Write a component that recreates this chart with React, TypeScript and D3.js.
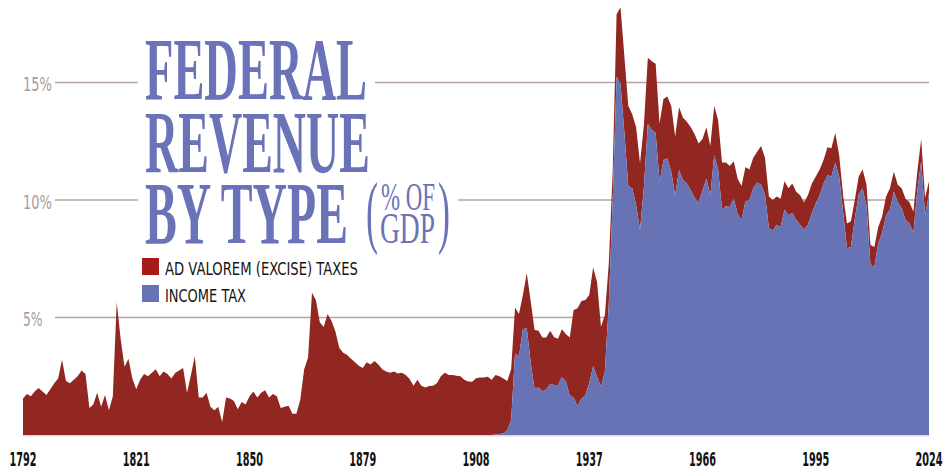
import React from 'react';
import * as d3 from 'd3';

const START_YEAR = 1792;
const END_YEAR = 2024;
const INCOME_START = 1912;

// Ad valorem (excise) taxes, % of GDP, 1792..2024
const exciseTaxes = [
  1.55, 1.75, 1.65, 1.85, 2.0, 1.85, 1.7, 1.95, 2.2, 2.4,
  3.2, 2.3, 2.2, 2.35, 2.5, 2.75, 2.6, 1.15, 1.3, 1.8,
  1.2, 1.7, 1.05, 1.65, 5.65, 4.1, 2.9, 3.25, 2.4, 1.95,
  2.35, 2.6, 2.5, 2.65, 2.8, 2.5, 2.7, 2.6, 2.4, 2.65,
  2.75, 2.85, 1.8, 2.55, 3.35, 1.6, 1.6, 1.8, 1.2, 1.05,
  1.2, 0.55, 1.6, 1.55, 1.45, 1.1, 1.4, 1.3, 1.65, 1.85,
  1.6, 1.8, 1.9, 1.6, 1.75, 1.65, 1.15, 1.2, 1.25, 0.9,
  0.9, 1.5, 2.8, 3.3, 6.05, 5.75, 4.8, 4.6, 5.15, 4.85,
  4.4, 3.7, 3.5, 3.4, 3.25, 3.1, 2.95, 2.85, 3.1, 3.0,
  3.15, 3.0, 2.8, 2.7, 2.65, 2.7, 2.62, 2.65, 2.55, 2.38,
  2.1, 2.35, 2.1, 2.02, 2.08, 2.1, 2.2, 2.5, 2.65, 2.55,
  2.55, 2.52, 2.5, 2.35, 2.28, 2.27, 2.42, 2.45, 2.45, 2.48,
  2.35, 2.53, 2.46, 2.34, 2.1, 2.16, 1.96, 1.8, 1.45, 2.34,
  2.6, 2.51, 2.42, 2.29, 2.21, 2.26, 2.03, 1.97, 2.04, 2.01,
  2.47, 3.74, 4.16, 4.15, 4.06, 3.76, 4.2, 4.02, 2.56, 2.4,
  1.7, 1.2, 2.65, 3.25, 3.25, 3.4, 3.15, 3.3, 2.84, 2.63,
  2.8, 2.92, 2.94, 2.47, 2.6, 2.63, 2.8, 2.5, 2.67, 2.65,
  2.62, 2.7, 2.7, 2.5, 2.2, 2.2, 2.1, 2.1, 2.1, 2.0,
  1.85, 1.75, 1.6, 1.5, 1.45, 1.45, 1.3, 1.3, 1.3, 1.65,
  1.55, 1.35, 1.3, 1.2, 1.2, 1.2, 1.15, 1.25, 1.2, 1.25,
  1.15, 1.25, 1.25, 1.15, 1.1, 1.0, 1.2, 1.2, 1.25, 0.9,
  0.7, 1.05, 1.1, 0.8, 0.75, 0.8, 0.9, 0.85, 0.85, 0.7,
  0.7, 0.8, 0.9, 0.85, 0.75, 0.85, 0.9, 0.9, 0.9, 0.8,
  0.95, 0.75, 0.5,
];

// Income tax, % of GDP, 1912..2024
const incomeTax = [
  0, 0.02, 0.04, 0.06, 0.2, 0.64, 3.47, 3.35, 4.5, 4.54,
  3.1, 1.96, 2.02, 1.86, 1.94, 2.18, 2.13, 2.13, 2.46, 2.29,
  1.68, 1.58, 1.23, 1.55, 1.68, 2.2, 2.94, 2.48, 2.05, 2.7,
  5.6, 10.0, 15.25, 14.95, 12.85, 10.6, 10.5, 9.8, 8.72, 10.57,
  13.25, 12.98, 12.86, 10.78, 11.7, 11.77, 11.2, 10.2, 11.28, 10.85,
  10.71, 10.4, 10.1, 9.9, 10.4, 10.9, 10.2, 11.9, 11.3, 9.6,
  9.75, 9.7, 10.05, 9.4, 9.15, 9.95, 10.0, 10.5, 10.75, 10.65,
  10.25, 8.8, 8.7, 8.95, 8.85, 9.6, 9.35, 9.45, 9.15, 8.95,
  8.75, 8.95, 9.45, 9.85, 10.2, 10.7, 11.05, 11.0, 11.6, 11.0,
  9.5, 7.95, 8.0, 9.2, 10.25, 10.5, 9.75, 7.25, 7.15, 8.15,
  8.6, 9.35, 9.6, 10.35, 9.9, 9.65, 9.15, 9.0, 8.6, 10.4,
  11.65, 9.35, 10.3,
];

const yTicks = [5, 10, 15];
const yearTicks = [1792, 1821, 1850, 1879, 1908, 1937, 1966, 1995, 2024];
const legendLabels = ['AD VALOREM (EXCISE) TAXES', 'INCOME TAX'];
const titleLines = ['FEDERAL', 'REVENUE', 'BY TYPE'];

const RED = '#922620';
const BLUE = '#6873b6';
const LEGEND_RED = '#a8191a';
const TITLE = '#6a73b8';
const GRID = '#b5a3a8';
const TICK_TEXT = '#a99ca0';

const W = 943;
const H = 468;

const condensed = "'DejaVu Sans Condensed', 'Liberation Sans Narrow', Roboto, 'Noto Sans', sans-serif";
const serif = "'Liberation Serif', 'DejaVu Serif', serif";

export default function App() {
  const years = d3.range(START_YEAR, END_YEAR + 1);
  const rows = years.map((yr, i) => ({
    year: yr,
    excise: exciseTaxes[i],
    income: yr >= INCOME_START ? incomeTax[yr - INCOME_START] : 0,
  }));

  const x = d3.scaleLinear().domain([START_YEAR, END_YEAR]).range([23, 929]);
  const y = d3.scaleLinear().domain([0, 15]).range([435, 82.5]);

  const stack = d3.stack<any>().keys(['income', 'excise']);
  const series = stack(rows);
  const area = d3
    .area<any>()
    .x((d) => x(d.data.year))
    .y0((d) => y(d[0]))
    .y1((d) => y(d[1]))
    .curve(d3.curveLinear);

  const colors: Record<string, string> = { income: BLUE, excise: RED };

  return (
    <svg
      width={W}
      height={H}
      viewBox={`0 0 ${W} ${H}`}
      style={{ position: 'absolute', left: 0, top: 0, background: '#fff' }}
    >
      {/* gridlines */}
      {yTicks.map((t) => (
        <line key={t} x1={55} x2={929} y1={y(t)} y2={y(t)} stroke={GRID} strokeWidth={1.4} />
      ))}
      {/* gaps behind title */}
      <rect x={138} y={30} width={237} height={80} fill="#fff" />
      <rect x={138} y={176} width={320} height={84} fill="#fff" />

      {/* y tick labels */}
      {yTicks.map((t) => (
        <text
          key={t}
          x={23}
          y={y(t) + 8.5}
          fontFamily={condensed}
          fontSize={19}
          fill={TICK_TEXT}
          textLength={t >= 10 ? 29 : 19.5}
          lengthAdjust="spacingAndGlyphs"
        >
          {t}%
        </text>
      ))}

      {/* stacked areas: draw excise (top) first then income */}
      {series
        .slice()
        .reverse()
        .map((s) => (
          <path key={s.key} d={area(s) || ''} fill={colors[s.key]} />
        ))}
      <line x1={23} x2={929} y1={435.8} y2={435.8} stroke="#dcbfc2" strokeWidth={1} />

      {/* x tick labels */}
      {yearTicks.map((yr) => (
        <text
          key={yr}
          x={x(yr)}
          y={465.5}
          textAnchor="middle"
          fontFamily={condensed}
          fontWeight={700}
          fontSize={19.5}
          fill="#111"
          textLength={27}
          lengthAdjust="spacingAndGlyphs"
        >
          {yr}
        </text>
      ))}

      {/* title */}
      <g fill={TITLE} fontFamily={serif} fontWeight={700}>
        <text x={145} y={99} fontSize={89} textLength={222} lengthAdjust="spacingAndGlyphs">
          {titleLines[0]}
        </text>
        <text x={145} y={172} fontSize={89} textLength={225} lengthAdjust="spacingAndGlyphs">
          {titleLines[1]}
        </text>
        <text x={145} y={243} fontSize={89} textLength={203} lengthAdjust="spacingAndGlyphs">
          {titleLines[2]}
        </text>
        <text x={366} y={238} fontSize={80} fontWeight={400} textLength={12} lengthAdjust="spacingAndGlyphs">
          (
        </text>
        <text x={381} y={210} fontSize={41} fontWeight={400} textLength={54} lengthAdjust="spacingAndGlyphs">
          % OF
        </text>
        <text x={380} y={243} fontSize={45} fontWeight={400} textLength={55} lengthAdjust="spacingAndGlyphs">
          GDP
        </text>
        <text x={438} y={238} fontSize={80} fontWeight={400} textLength={12} lengthAdjust="spacingAndGlyphs">
          )
        </text>
      </g>

      {/* legend */}
      {legendLabels.map((lab, i) => (
        <g key={lab} transform={`translate(142, ${258 + i * 27})`}>
          <rect width={17} height={17} fill={i === 0 ? LEGEND_RED : BLUE} />
          <text
            x={23}
            y={17}
            fontFamily={condensed}
            fontSize={18}
            fill="#151515"
            textLength={i === 0 ? 193 : 81}
            lengthAdjust="spacingAndGlyphs"
          >
            {lab}
          </text>
        </g>
      ))}
    </svg>
  );
}
